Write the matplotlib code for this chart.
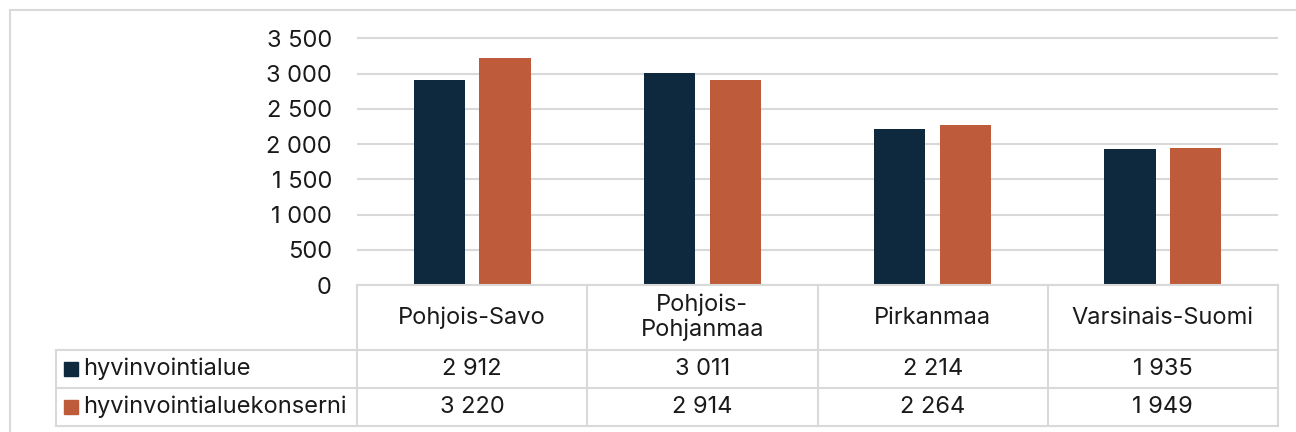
import matplotlib
matplotlib.use("Agg")
import matplotlib.pyplot as plt
from matplotlib.patches import Rectangle
from matplotlib.lines import Line2D

plt.rcParams['font.family'] = ['Inter', 'DejaVu Sans']

# ---- data ----
categories = ["Pohjois-Savo", "Pohjois-\nPohjanmaa", "Pirkanmaa", "Varsinais-Suomi"]
series_names = ["hyvinvointialue", "hyvinvointialuekonserni"]
hyvinvointialue = [2912, 3011, 2214, 1935]
konserni = [3220, 2914, 2264, 1949]
y_ticks = [0, 500, 1000, 1500, 2000, 2500, 3000, 3500]

colors = ["#0e283d", "#bd5b3a"]
grid_col = "#d9d9d9"
FS = 17

def fmt(v):
    return f"{v:,}".replace(",", " ")

W, H = 1296, 432
fig = plt.figure(figsize=(W / 100, H / 100), dpi=100)

def frac(x0, y0, x1, y1):
    # pixel box (top-left origin) -> figure fraction rect
    return [x0 / W, 1 - y1 / H, (x1 - x0) / W, (y1 - y0) / H]

# outer border
fig.patches.append(Rectangle((10 / W, -0.1), 1.2, 1 - 10 / H + 0.1,
                             transform=fig.transFigure, fill=False,
                             edgecolor="#d9d9d9", linewidth=1.5))

# ---- bar axes ----
px_left, px_right = 357, 1278
y0_px, y3500_px = 285, 38.3
top_px = 28
ppu = (y0_px - y3500_px) / 3500
ax = fig.add_axes(frac(px_left, top_px, px_right, y0_px))
ax.set_xlim(0, len(categories))
ax.set_ylim(0, (y0_px - top_px) / ppu)

n = len(categories)
xs = [i + 0.5 for i in range(n)]
bw = 0.222
off = 0.143
ax.bar([x - off for x in xs], hyvinvointialue, width=bw, color=colors[0], zorder=3)
ax.bar([x + off for x in xs], konserni, width=bw, color=colors[1], zorder=3)

ax.set_yticks(y_ticks)
ax.set_yticklabels([fmt(v) for v in y_ticks], fontsize=FS, color="#1a1a1a")
ax.tick_params(axis="y", length=0, pad=18)
ax.set_xticks([])
for s in ax.spines.values():
    s.set_visible(False)
ax.grid(axis="y", color=grid_col, linewidth=1.5, zorder=0)
ax.set_facecolor("none")

# ---- data table ----
leg_left = 56
unit = (px_right - px_left) / n
tbl_top, hdr_bot, row1_bot, row2_bot = 285, 350, 388, 426
tax = fig.add_axes(frac(leg_left, tbl_top, px_right, row2_bot))
tax.set_xlim(-(px_left - leg_left) / unit, n)
tax.set_ylim(row2_bot, tbl_top)  # pixel rows, inverted
tax.axis("off")

lw = 1.5
def hline(y, x0, x1):
    tax.add_line(Line2D([x0, x1], [y, y], color=grid_col, lw=lw, clip_on=False))
def vline(x, y0, y1):
    tax.add_line(Line2D([x, x], [y0, y1], color=grid_col, lw=lw, clip_on=False))

xl = tax.get_xlim()[0]
hline(tbl_top, 0, n)
for y in (hdr_bot, row1_bot, row2_bot):
    hline(y, xl, n)
vline(xl, hdr_bot, row2_bot)
for i in range(n + 1):
    vline(i, tbl_top, row2_bot)

hdr_c = (tbl_top + hdr_bot) / 2
r1_c = (hdr_bot + row1_bot) / 2
r2_c = (row1_bot + row2_bot) / 2
for x, c in zip(xs, categories):
    tax.text(x, hdr_c, c, ha="center", va="center", fontsize=FS,
             color="#1a1a1a", linespacing=1.15)
for rc, vals in ((r1_c, hyvinvointialue), (r2_c, konserni)):
    for x, v in zip(xs, vals):
        tax.text(x, rc, fmt(v), ha="center", va="center", fontsize=FS, color="#1a1a1a")

# legend keys
sq = 14 / unit
for rc, name, col in ((r1_c, series_names[0], colors[0]), (r2_c, series_names[1], colors[1])):
    kx = xl + 8 / unit
    tax.add_patch(Rectangle((kx, rc - 7), sq, 14, color=col, clip_on=False))
    tax.text(kx + sq + 5 / unit, rc, name, ha="left", va="center", fontsize=FS, color="#1a1a1a")

fig.savefig("out.png", dpi=100)
